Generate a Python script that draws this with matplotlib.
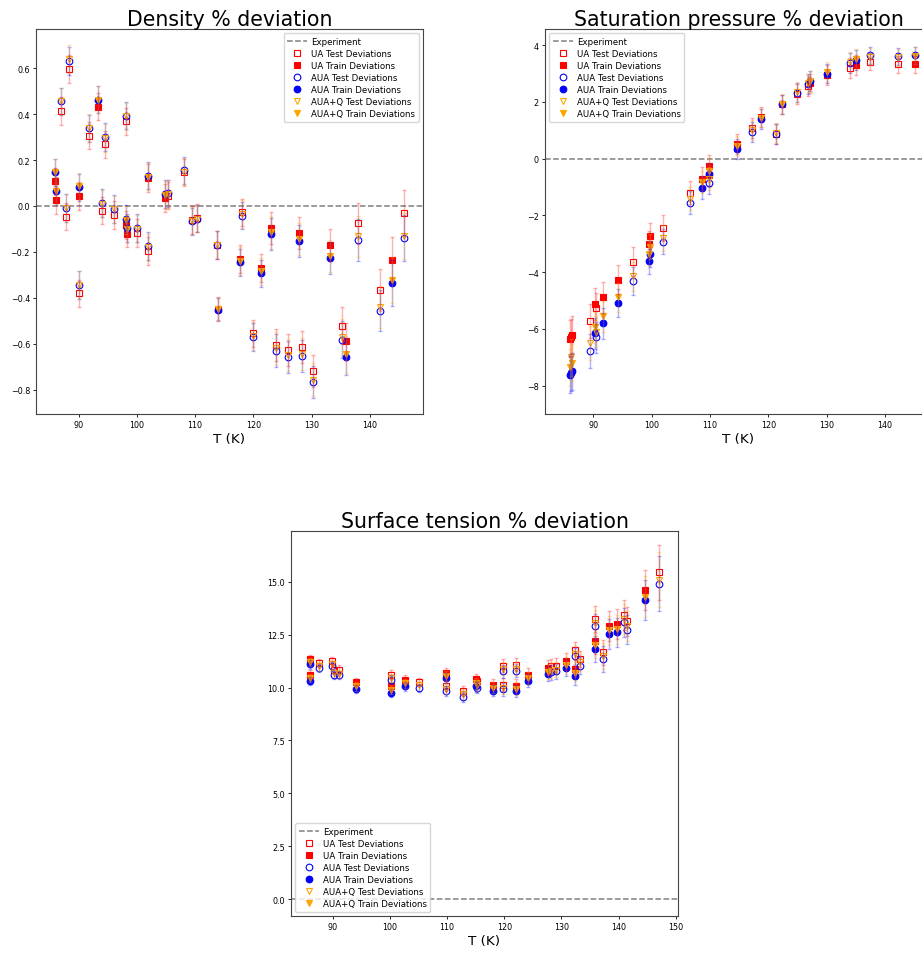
import matplotlib
matplotlib.use("Agg")
import matplotlib.pyplot as plt
import numpy as np

# density % deviation
dens_T_train = [86.0, 86.05, 90.1, 93.3, 98.2, 98.25, 101.9, 104.9, 113.9, 117.7, 121.3, 123.1, 127.9, 133.1, 135.9, 143.8]
dens_ua_train = [0.107, 0.027, 0.043, 0.432, -0.083, -0.120, 0.122, 0.035, -0.448, -0.230, -0.271, -0.097, -0.116, -0.170, -0.588, -0.233]
dens_aua_train = [0.146, 0.064, 0.081, 0.463, -0.057, -0.097, 0.132, 0.052, -0.452, -0.245, -0.293, -0.122, -0.151, -0.228, -0.655, -0.335]
dens_auaq_train = [0.146, 0.064, 0.085, 0.463, -0.060, -0.100, 0.128, 0.048, -0.450, -0.240, -0.285, -0.115, -0.145, -0.216, -0.645, -0.320]
dens_err_train = [0.06, 0.06, 0.06, 0.06, 0.06, 0.06, 0.06, 0.06, 0.05, 0.06, 0.06, 0.07, 0.07, 0.07, 0.08, 0.10]

dens_T_test = [87.0, 87.9, 88.3, 90.0, 91.8, 94.1, 94.6, 96.1, 98.2, 100.0, 102.0, 105.4, 108.1, 109.4, 110.3,
               113.8, 118.0, 119.9, 123.9, 125.9, 128.4, 130.2, 135.2, 137.9, 141.8, 145.8]
dens_ua_test = [0.414, -0.046, 0.596, -0.380, 0.306, -0.020, 0.268, -0.039, 0.368, -0.117, -0.196, 0.045, 0.146, -0.062, -0.052,
                -0.170, -0.028, -0.554, -0.604, -0.626, -0.612, -0.719, -0.520, -0.075, -0.365, -0.029]
dens_aua_test = [0.455, -0.009, 0.632, -0.343, 0.338, 0.012, 0.299, -0.013, 0.393, -0.097, -0.175, 0.055, 0.155, -0.067, -0.055,
                 -0.170, -0.042, -0.571, -0.629, -0.658, -0.651, -0.764, -0.581, -0.148, -0.455, -0.140]
dens_auaq_test = [0.455, -0.009, 0.640, -0.345, 0.340, 0.010, 0.296, -0.015, 0.390, -0.100, -0.180, 0.052, 0.150, -0.064, -0.055,
                  -0.168, -0.035, -0.565, -0.620, -0.650, -0.643, -0.755, -0.570, -0.132, -0.440, -0.129]
dens_err_test = [0.06, 0.06, 0.06, 0.06, 0.06, 0.06, 0.06, 0.06, 0.06, 0.06, 0.06, 0.06, 0.06, 0.06, 0.06,
                 0.06, 0.06, 0.06, 0.07, 0.07, 0.07, 0.07, 0.08, 0.09, 0.09, 0.10]

# saturation pressure % deviation
psat_T_train = [86.0, 86.3, 90.3, 91.7, 94.3, 99.6, 99.7, 108.6, 109.8, 114.6, 118.7, 122.3, 127.2, 130.0, 135.0, 145.2]
psat_ua_train = [-6.35, -6.20, -5.12, -4.89, -4.26, -3.00, -2.73, -0.71, -0.26, 0.53, 1.47, 1.91, 2.65, 2.94, 3.30, 3.32]
psat_aua_train = [-7.62, -7.50, -6.15, -5.80, -5.09, -3.62, -3.36, -1.02, -0.55, 0.35, 1.39, 1.91, 2.73, 3.00, 3.47, 3.65]
psat_auaq_train = [-7.35, -7.20, -5.95, -5.56, -4.89, -3.35, -3.10, -0.82, -0.42, 0.45, 1.45, 1.93, 2.75, 3.05, 3.50, 3.62]
psat_err_train = [0.65, 0.65, 0.55, 0.55, 0.5, 0.45, 0.45, 0.4, 0.4, 0.35, 0.35, 0.35, 0.35, 0.35, 0.35, 0.3]

psat_T_test = [86.2, 89.5, 90.4, 96.8, 102.0, 106.6, 109.9, 117.2, 121.4, 124.9, 126.9, 134.0, 137.5, 142.2]
psat_ua_test = [-6.30, -5.71, -5.28, -3.63, -2.44, -1.20, -0.59, 1.08, 0.88, 2.27, 2.55, 3.20, 3.42, 3.32]
psat_aua_test = [-7.55, -6.77, -6.30, -4.32, -2.92, -1.55, -0.85, 0.94, 0.88, 2.33, 2.62, 3.38, 3.65, 3.61]
psat_auaq_test = [-7.00, -6.51, -6.10, -4.15, -2.80, -1.41, -0.70, 1.00, 0.90, 2.35, 2.65, 3.40, 3.60, 3.58]
psat_err_test = [0.65, 0.6, 0.55, 0.5, 0.45, 0.4, 0.4, 0.35, 0.35, 0.35, 0.35, 0.35, 0.3, 0.3]

# surface tension % deviation
st_T_train = [86.0, 86.05, 94.0, 100.2, 102.7, 109.9, 115.1, 118.0, 122.1, 124.2, 127.7, 130.8, 132.3, 135.8, 138.3, 139.7, 144.7]
st_ua_train = [11.35, 10.61, 10.25, 10.06, 10.38, 10.69, 10.41, 10.14, 10.09, 10.61, 10.93, 11.24, 10.88, 12.18, 12.92, 13.00, 14.62]
st_aua_train = [11.10, 10.30, 9.94, 9.75, 10.06, 10.46, 10.06, 9.86, 9.83, 10.33, 10.66, 10.93, 10.53, 11.83, 12.53, 12.61, 14.15]
st_auaq_train = [11.20, 10.45, 10.05, 9.90, 10.20, 10.55, 10.20, 10.00, 9.95, 10.45, 10.75, 11.05, 10.70, 12.00, 12.70, 12.75, 14.30]
st_err_train = [0.2, 0.2, 0.2, 0.2, 0.2, 0.25, 0.25, 0.25, 0.3, 0.3, 0.35, 0.4, 0.4, 0.6, 0.7, 0.7, 0.95]

st_T_test = [87.6, 89.9, 90.2, 91.1, 100.2, 105.1, 109.9, 112.8, 115.3, 119.8, 119.85, 122.1, 128.1, 129.1, 132.3, 133.3,
             135.8, 137.3, 140.9, 141.4, 147.0]
st_ua_test = [11.16, 11.24, 10.85, 10.85, 10.61, 10.25, 10.09, 9.83, 10.30, 10.14, 11.04, 11.08, 11.00, 11.04, 11.76, 11.35,
              13.24, 11.67, 13.44, 13.13, 15.44]
st_aua_test = [10.93, 11.00, 10.60, 10.60, 10.38, 9.98, 9.83, 9.56, 10.00, 9.91, 10.77, 10.80, 10.72, 10.77, 11.48, 11.04,
               12.89, 11.35, 13.08, 12.74, 14.91]
st_auaq_test = [11.00, 11.10, 10.70, 10.65, 10.45, 10.10, 9.95, 9.70, 10.10, 10.00, 10.90, 10.90, 10.80, 10.85, 11.60, 11.20,
                13.05, 11.50, 13.25, 12.90, 15.10]
st_err_test = [0.2, 0.2, 0.2, 0.2, 0.2, 0.2, 0.25, 0.25, 0.25, 0.3, 0.3, 0.3, 0.35, 0.35, 0.4, 0.4,
               0.6, 0.6, 0.7, 0.7, 1.3]

models = ["UA", "AUA", "AUA+Q"]
colors = ["red", "blue", "orange"]
markers = ["s", "o", "v"]

W = 922
H = 954


def ax_rect(left, top, right, bottom):
    return [left / W, (H - bottom) / H, (right - left) / W, (bottom - top) / H]


def draw_panel(ax, T_test, test_sets, err_test, T_train, train_sets, err_train, title):
    ax.axhline(0, color="grey", ls="--", lw=1.1, label="Experiment", zorder=1)
    for i in range(3):
        ax.plot(T_test, test_sets[i], ls="none", marker=markers[i], ms=4.8,
                mfc="none", mec=colors[i], mew=0.8, zorder=3,
                label="{} Test Deviations".format(models[i]))
        ax.plot(T_train, train_sets[i], ls="none", marker=markers[i], ms=4.8,
                mfc=colors[i], mec=colors[i], mew=0.8, zorder=3,
                label="{} Train Deviations".format(models[i]))
    # error bars over the markers, semi transparent
    for i in range(3):
        for T, vals, err in [(T_test, test_sets[i], err_test), (T_train, train_sets[i], err_train)]:
            ax.errorbar(T, vals, yerr=err, fmt="none", ecolor=colors[i], alpha=0.3,
                        elinewidth=1.0, capsize=1.6, capthick=1.0, zorder=4)
    ax.set_title(title, fontsize=14.8, pad=3)
    ax.set_xlabel("T (K)", fontsize=9.7, labelpad=2)
    ax.tick_params(labelsize=5.8, length=2.4, width=0.6, pad=2)
    for sp in ax.spines.values():
        sp.set_linewidth(0.8)
        sp.set_color("#444444")


def add_legend(ax, loc):
    ax.legend(loc=loc, fontsize=6.2, numpoints=1, borderaxespad=0.5, labelspacing=0.36,
              handlelength=2.3, handletextpad=0.5, borderpad=0.4)


fig = plt.figure(figsize=(W / 100, H / 100), dpi=100)

ax1 = fig.add_axes(ax_rect(36, 30, 423, 415))
draw_panel(ax1, dens_T_test, [dens_ua_test, dens_aua_test, dens_auaq_test], dens_err_test,
           dens_T_train, [dens_ua_train, dens_aua_train, dens_auaq_train], dens_err_train,
           "Density % deviation")
ax1.set_xlim(82.7, 149.1)
ax1.set_ylim(-0.905, 0.77)
add_legend(ax1, "upper right")

ax2 = fig.add_axes(ax_rect(545, 30, 932, 415))
draw_panel(ax2, psat_T_test, [psat_ua_test, psat_aua_test, psat_auaq_test], psat_err_test,
           psat_T_train, [psat_ua_train, psat_aua_train, psat_auaq_train], psat_err_train,
           "Saturation pressure % deviation")
ax2.set_xlim(81.7, 148.1)
ax2.set_ylim(-9.0, 4.57)
add_legend(ax2, "upper left")

ax3 = fig.add_axes(ax_rect(291, 532, 678, 917))
draw_panel(ax3, st_T_test, [st_ua_test, st_aua_test, st_auaq_test], st_err_test,
           st_T_train, [st_ua_train, st_aua_train, st_auaq_train], st_err_train,
           "Surface tension % deviation")
ax3.set_xlim(82.7, 150.4)
ax3.set_ylim(-0.8, 17.4)
add_legend(ax3, "lower left")

fig.savefig("out.png", dpi=100)
